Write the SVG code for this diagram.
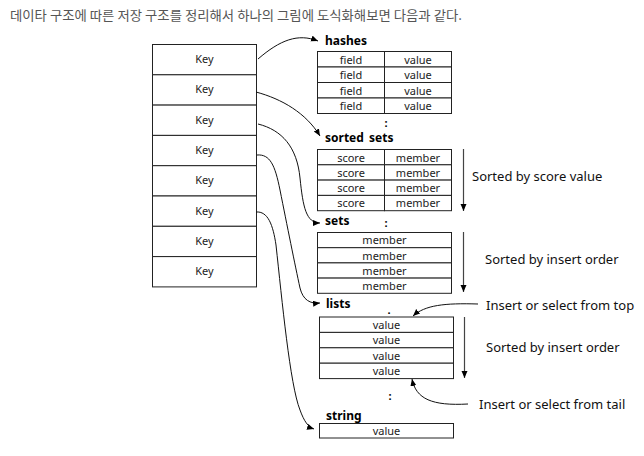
<svg xmlns="http://www.w3.org/2000/svg" width="644" height="456" viewBox="0 0 644 456">
<defs>
<marker id="ah" markerUnits="userSpaceOnUse" markerWidth="8" markerHeight="8" refX="7" refY="3" orient="auto">
<path d="M0,0 L7,3 L0,6 z" fill="#000"/>
</marker>
<style>
.hdr{font-family:"Noto Sans CJK KR","Noto Sans",sans-serif;font-size:13px;fill:#555}
.cell{fill:#fff;stroke:#222;stroke-width:1}
.t{font-family:"Noto Sans","Open Sans",sans-serif;font-size:11px;fill:#222;text-anchor:middle}
.ttl{font-family:"Noto Sans","Open Sans",sans-serif;font-size:12px;font-weight:bold;fill:#000}
.lbl{font-family:"Noto Sans","Open Sans",sans-serif;font-size:13px;fill:#111}
.dot{font-family:"Noto Sans",sans-serif;font-size:11px;font-weight:bold;fill:#000;text-anchor:middle}
.con{fill:none;stroke:#111;stroke-width:1;marker-end:url(#ah)}
.dn{fill:none;stroke:#444;stroke-width:1.2;marker-end:url(#ah)}
</style>
</defs>
<rect width="644" height="456" fill="#fff"/>
<text class="hdr" x="10" y="20" textLength="452" lengthAdjust="spacingAndGlyphs">데이타 구조에 따른 저장 구조를 정리해서 하나의 그림에 도식화해보면 다음과 같다.</text>

<g id="keys">
<rect class="cell" x="152.5" y="44.5" width="104" height="30.3"/>
<rect class="cell" x="152.5" y="74.8" width="104" height="30.3"/>
<rect class="cell" x="152.5" y="105.1" width="104" height="30.3"/>
<rect class="cell" x="152.5" y="135.4" width="104" height="30.3"/>
<rect class="cell" x="152.5" y="165.7" width="104" height="30.3"/>
<rect class="cell" x="152.5" y="196" width="104" height="30.3"/>
<rect class="cell" x="152.5" y="226.3" width="104" height="30.3"/>
<rect class="cell" x="152.5" y="256.6" width="104" height="30.3"/>
<text class="t" x="204.5" y="63">Key</text>
<text class="t" x="204.5" y="93.3">Key</text>
<text class="t" x="204.5" y="123.6">Key</text>
<text class="t" x="204.5" y="153.9">Key</text>
<text class="t" x="204.5" y="184.2">Key</text>
<text class="t" x="204.5" y="214.5">Key</text>
<text class="t" x="204.5" y="244.8">Key</text>
<text class="t" x="204.5" y="275.1">Key</text>
</g>

<g id="hashes">
<text class="ttl" x="325" y="45">hashes</text>
<rect class="cell" x="317.5" y="51.5" width="67" height="15.5"/>
<rect class="cell" x="384.5" y="51.5" width="67" height="15.5"/>
<rect class="cell" x="317.5" y="67" width="67" height="15.5"/>
<rect class="cell" x="384.5" y="67" width="67" height="15.5"/>
<rect class="cell" x="317.5" y="82.5" width="67" height="15.5"/>
<rect class="cell" x="384.5" y="82.5" width="67" height="15.5"/>
<rect class="cell" x="317.5" y="98" width="67" height="15.5"/>
<rect class="cell" x="384.5" y="98" width="67" height="15.5"/>
<text class="t" x="351" y="63.5">field</text>
<text class="t" x="418" y="63.5">value</text>
<text class="t" x="351" y="79">field</text>
<text class="t" x="418" y="79">value</text>
<text class="t" x="351" y="94.5">field</text>
<text class="t" x="418" y="94.5">value</text>
<text class="t" x="351" y="110">field</text>
<text class="t" x="418" y="110">value</text>
<text class="dot" x="386" y="127">:</text>
</g>

<g id="sorted-sets">
<text class="ttl" x="325" y="142">sorted<tspan dx="2"> sets</tspan></text>
<rect class="cell" x="317.5" y="149.5" width="67" height="15.3"/>
<rect class="cell" x="384.5" y="149.5" width="67" height="15.3"/>
<rect class="cell" x="317.5" y="164.8" width="67" height="15.3"/>
<rect class="cell" x="384.5" y="164.8" width="67" height="15.3"/>
<rect class="cell" x="317.5" y="180.1" width="67" height="15.3"/>
<rect class="cell" x="384.5" y="180.1" width="67" height="15.3"/>
<rect class="cell" x="317.5" y="195.4" width="67" height="15.3"/>
<rect class="cell" x="384.5" y="195.4" width="67" height="15.3"/>
<text class="t" x="351" y="161.5">score</text>
<text class="t" x="418" y="161.5">member</text>
<text class="t" x="351" y="176.8">score</text>
<text class="t" x="418" y="176.8">member</text>
<text class="t" x="351" y="192.1">score</text>
<text class="t" x="418" y="192.1">member</text>
<text class="t" x="351" y="207.4">score</text>
<text class="t" x="418" y="207.4">member</text>
<text class="lbl" x="472" y="181">Sorted by score value</text>
</g>

<g id="sets">
<text class="ttl" x="325" y="225">sets</text>
<text class="dot" x="386" y="227">:</text>
<rect class="cell" x="317.5" y="232.5" width="134" height="15.2"/>
<rect class="cell" x="317.5" y="247.7" width="134" height="15.2"/>
<rect class="cell" x="317.5" y="262.9" width="134" height="15.2"/>
<rect class="cell" x="317.5" y="278.1" width="134" height="15.2"/>
<text class="t" x="384.5" y="244.3">member</text>
<text class="t" x="384.5" y="259.5">member</text>
<text class="t" x="384.5" y="274.7">member</text>
<text class="t" x="384.5" y="289.9">member</text>
<text class="lbl" x="485" y="264">Sorted by insert order</text>
</g>

<g id="lists">
<text class="ttl" x="326" y="308">lists</text>
<text class="dot" x="389" y="314">.</text>
<rect class="cell" x="319.5" y="317" width="134" height="15.4"/>
<rect class="cell" x="319.5" y="332.4" width="134" height="15.4"/>
<rect class="cell" x="319.5" y="347.8" width="134" height="15.4"/>
<rect class="cell" x="319.5" y="363.2" width="134" height="15.4"/>
<text class="t" x="386.5" y="328.9">value</text>
<text class="t" x="386.5" y="344.3">value</text>
<text class="t" x="386.5" y="359.7">value</text>
<text class="t" x="386.5" y="375.1">value</text>
<text class="dot" x="390" y="400">:</text>
<text class="lbl" x="486" y="309.5">Insert or select from top</text>
<text class="lbl" x="486" y="352">Sorted by insert order</text>
<text class="lbl" x="479" y="408.5">Insert or select from tail</text>
</g>

<g id="string">
<text class="ttl" x="326" y="420">string</text>
<rect class="cell" x="319.5" y="423.5" width="134" height="14.5"/>
<text class="t" x="386.5" y="434.8">value</text>
</g>

<g id="connectors">
<path class="con" d="M258,59 C280,40 298,33 318,41"/>
<path class="con" d="M256,92 C282,99 306,113 320,136"/>
<path class="con" d="M258,124 C282,130 297,147 300,178 C303,207 306,223 320,223"/>
<path class="con" d="M257,155 C270,154 275,165 280,190 C287,225 295,265 300,288 C303,300 310,304 320,303"/>
<path class="con" d="M256,212 C268,211 273,225 276,245 C282,300 290,385 300,410 C304,421 308,427 314,429"/>
<path class="dn" d="M463.5,149 L463.5,211"/>
<path class="dn" d="M463.5,232 L463.5,292"/>
<path class="dn" d="M464.5,317 L464.5,378"/>
<path class="con" d="M478,304 C445,303 425,305 413,316"/>
<path class="con" d="M468,404 C432,406 416,399 412,379"/>
</g>
</svg>
